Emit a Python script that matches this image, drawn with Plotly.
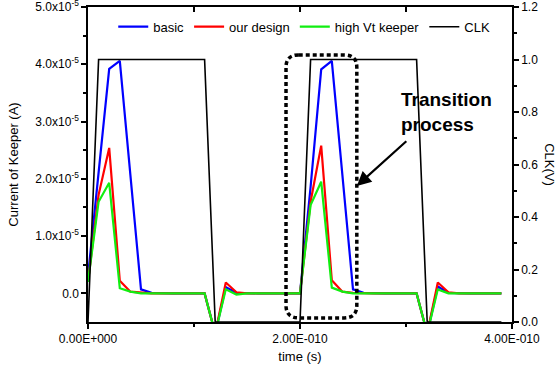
import plotly.graph_objects as go

# time axis (units of 1e-10 s)
t_units = [0.0, 0.1, 0.2, 0.3, 0.4, 0.5, 0.6, 0.7, 0.8, 0.9,
           1.0, 1.1, 1.2, 1.3, 1.4, 1.5, 1.6, 1.7, 1.8, 1.9,
           2.0, 2.1, 2.2, 2.3, 2.4, 2.5, 2.6, 2.7, 2.8, 2.9,
           3.0, 3.1, 3.2, 3.3, 3.4, 3.5, 3.6, 3.7, 3.8, 3.9]
time_s = [v * 1e-10 for v in t_units]

# currents in units of 1e-5 A
basic = [0.30, 2.10, 3.92, 4.06, 2.07, 0.07, 0.01, 0.0, 0.0, 0.0,
         0.0, 0.0, -0.70, 0.11, 0.01, 0.0, 0.0, 0.0, 0.0, 0.0,
         0.0, 1.86, 3.91, 4.06, 2.07, 0.07, 0.01, 0.0, 0.0, 0.0,
         0.0, 0.0, -0.70, 0.12, 0.01, 0.0, 0.0, 0.0, 0.0, 0.0]
our_design = [0.20, 1.72, 2.54, 0.22, 0.03, 0.01, 0.0, 0.0, 0.0, 0.0,
              0.0, 0.0, -0.70, 0.19, 0.02, 0.0, 0.0, 0.0, 0.0, 0.0,
              0.0, 1.60, 2.58, 0.23, 0.03, 0.01, 0.0, 0.0, 0.0, 0.0,
              0.0, 0.0, -0.70, 0.19, 0.02, 0.0, 0.0, 0.0, 0.0, 0.0]
high_vt = [0.20, 1.60, 1.93, 0.09, 0.03, 0.0, 0.0, 0.0, 0.0, 0.0,
           0.0, 0.0, -0.70, 0.07, -0.02, 0.0, 0.0, 0.0, 0.0, 0.0,
           0.0, 1.54, 1.95, 0.10, 0.03, 0.0, 0.0, 0.0, 0.0, 0.0,
           0.0, 0.0, -0.70, 0.07, 0.0, 0.0, 0.0, 0.0, 0.0, 0.0]

# clock waveform
clk_t_units = [0.0, 0.1, 1.1, 1.2, 2.0, 2.1, 3.1, 3.2, 3.9]
clk_v = [0, 1, 1, 0, 0, 1, 1, 0, 0]

y_ticks = [0, 1e-5, 2e-5, 3e-5, 4e-5, 5e-5]
y_ticktext = ["0.0", "1.0x10<sup>-5</sup>", "2.0x10<sup>-5</sup>", "3.0x10<sup>-5</sup>",
              "4.0x10<sup>-5</sup>", "5.0x10<sup>-5</sup>"]
y_minor = [0.5e-5, 1.5e-5, 2.5e-5, 3.5e-5, 4.5e-5]
x_ticks = [0, 2e-10, 4e-10]
x_ticktext = ["0.00E+000", "2.00E-010", "4.00E-010"]
x_minor = [1e-10, 3e-10]
y2_ticks = [0, 0.2, 0.4, 0.6, 0.8, 1.0, 1.2]
y2_ticktext = ["0.0", "0.2", "0.4", "0.6", "0.8", "1.0", "1.2"]
y2_minor = [0.1, 0.3, 0.5, 0.7, 0.9, 1.1]

FONT = "Arial, Liberation Sans, sans-serif"

fig = go.Figure()
fig.add_trace(go.Scatter(x=time_s, y=[v * 1e-5 for v in basic], name="basic",
                         mode="lines", line=dict(color="#0000FF", width=2.2)))
fig.add_trace(go.Scatter(x=time_s, y=[v * 1e-5 for v in our_design], name="our design",
                         mode="lines", line=dict(color="#FF0000", width=2.2)))
fig.add_trace(go.Scatter(x=time_s, y=[v * 1e-5 for v in high_vt], name="high Vt keeper",
                         mode="lines", line=dict(color="#11EE11", width=2.2)))
fig.add_trace(go.Scatter(x=[v * 1e-10 for v in clk_t_units], y=clk_v, name="CLK",
                         mode="lines", line=dict(color="black", width=1.6), yaxis="y2"))
# invisible trace to carry the top axis
fig.add_trace(go.Scatter(x=[0, 4e-10], y=[0, 0], xaxis="x2", mode="lines",
                         line=dict(width=0), showlegend=False, hoverinfo="skip"))

fig.update_layout(
    width=560, height=373,
    margin=dict(l=88, r=48, t=7, b=51, autoexpand=False),
    paper_bgcolor="white", plot_bgcolor="white",
    font=dict(family=FONT, size=12, color="black"),
    showlegend=True,
    legend=dict(orientation="h", x=0.51, xanchor="center", y=0.985, yanchor="top",
                bgcolor="rgba(0,0,0,0)", font=dict(size=13), itemwidth=30,
                tracegroupgap=0),
    xaxis=dict(range=[0, 4e-10], showgrid=False, zeroline=False, automargin=False,
               showline=True, linecolor="black", linewidth=1.5,
               tickmode="array", tickvals=x_ticks, ticktext=x_ticktext,
               ticks="outside", ticklen=5, tickwidth=1.5, tickcolor="black",
               ticklabeloverflow="allow",
               minor=dict(tickmode="array", tickvals=x_minor, ticks="outside",
                          ticklen=3, tickwidth=1.5, tickcolor="black"),
               tickfont=dict(size=12),
               title=dict(text="time (s)", font=dict(size=13), standoff=7)),
    xaxis2=dict(range=[0, 4e-10], overlaying="x", side="top", showgrid=False,
                zeroline=False, showline=True, linecolor="black", linewidth=1.5,
                automargin=False,
                tickmode="array", tickvals=[0, 1e-10, 2e-10, 3e-10, 4e-10],
                ticks="inside", ticklen=5, tickwidth=1.5, tickcolor="black",
                showticklabels=False),
    yaxis=dict(range=[-0.5e-5, 5e-5], showgrid=False, zeroline=False, automargin=False,
               showline=True, linecolor="black", linewidth=1.5,
               tickmode="array", tickvals=y_ticks, ticktext=y_ticktext,
               ticks="outside", ticklen=5, tickwidth=1.5, tickcolor="black",
               ticklabeloverflow="allow",
               minor=dict(tickmode="array", tickvals=y_minor, ticks="outside",
                          ticklen=3, tickwidth=1.5, tickcolor="black"),
               tickfont=dict(size=12),
               title=dict(text="Current of Keeper (A)", font=dict(size=13), standoff=14)),
    yaxis2=dict(range=[0, 1.2], overlaying="y", side="right", showgrid=False,
                zeroline=False, showline=True, linecolor="black", linewidth=1.5,
                automargin=False,
                tickmode="array", tickvals=y2_ticks, ticktext=y2_ticktext,
                ticks="outside", ticklen=5, tickwidth=1.5, tickcolor="black",
                ticklabeloverflow="allow",
                minor=dict(tickmode="array", tickvals=y2_minor, ticks="outside",
                           ticklen=3, tickwidth=1.5, tickcolor="black"),
                tickfont=dict(size=12)),
)

# right axis title (reads top to bottom)
fig.add_annotation(text="CLK(V)", xref="paper", yref="paper", x=1.088, y=0.5,
                   xanchor="center", yanchor="middle", textangle=90,
                   showarrow=False, font=dict(size=13))

# "Transition process" label
fig.add_annotation(text="<b>Transition<br>process</b>", xref="paper", yref="paper",
                   x=0.733, y=0.745, xanchor="left", yanchor="top", align="left",
                   showarrow=False, font=dict(size=19))

# arrow
fig.add_annotation(text="", xref="paper", yref="paper", x=0.634, y=0.432,
                   ax=51, ay=-46, showarrow=True, arrowhead=2, arrowsize=1.3,
                   arrowwidth=2.2, arrowcolor="black")

# dotted rounded rectangle (paper coordinates)
x0, x1, y0, y1 = 0.467, 0.634, 0.013, 0.848
rx, ry = 0.03, 0.04
path = (f"M {x0+rx},{y1} L {x1-rx},{y1} Q {x1},{y1} {x1},{y1-ry} "
        f"L {x1},{y0+ry} Q {x1},{y0} {x1-rx},{y0} "
        f"L {x0+rx},{y0} Q {x0},{y0} {x0},{y0+ry} "
        f"L {x0},{y1-ry} Q {x0},{y1} {x0+rx},{y1} Z")
fig.add_shape(type="path", path=path, xref="paper", yref="paper",
              line=dict(color="black", width=3.5, dash="4px,3px"))

fig.write_html("out.html", config={"displayModeBar": False},
               post_script="document.body.style.margin='0';")
